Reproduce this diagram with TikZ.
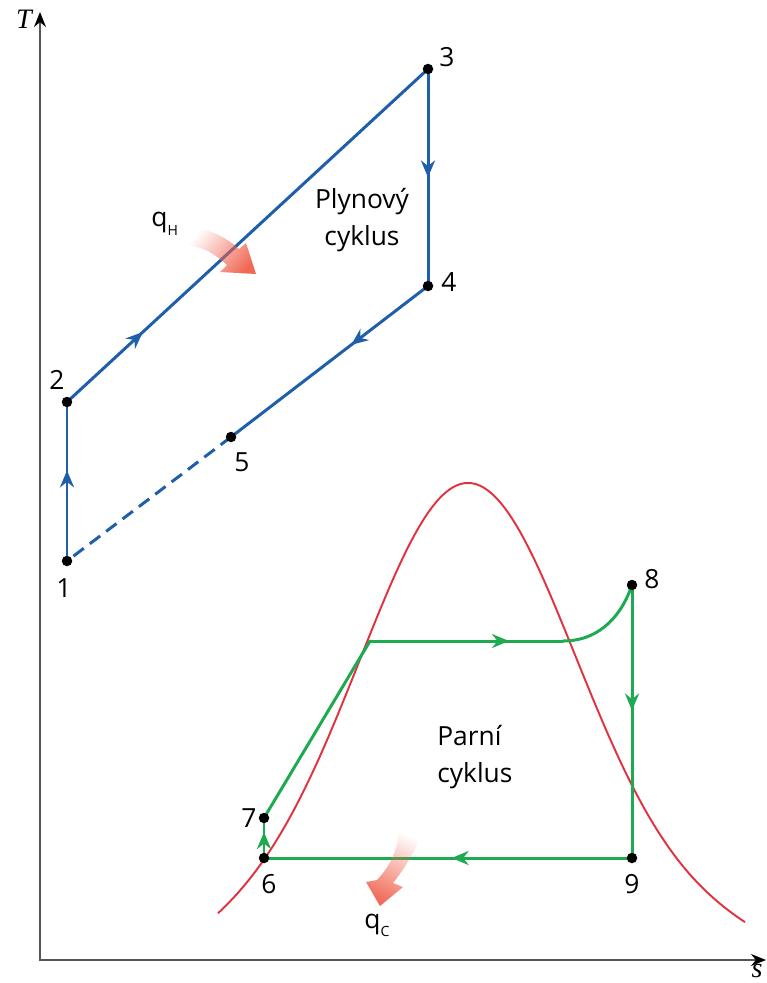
\documentclass[tikz,border=0pt]{standalone}
\usepackage{fontspec}
\setmainfont{Open Sans}
\newfontfamily\axisfont{Liberation Serif}
\usetikzlibrary{arrows.meta, decorations.markings, fadings}
\definecolor{cycblue}{HTML}{1F5FAA}
\definecolor{cycgreen}{HTML}{1DAA50}
\definecolor{domered}{HTML}{E2313F}
\definecolor{heatred}{HTML}{F0604C}
\definecolor{axisgray}{HTML}{555555}
\tikzfading[name=heatfade, left color=transparent!100, right color=transparent!5]
\newcommand{\lblsize}{\fontsize{15}{21}\selectfont}

\begin{document}
\begin{tikzpicture}[x=0.2mm, y=-0.2mm,
  >={Stealth[length=3.4mm, width=2.8mm]},
  midarrow/.style={postaction={decorate, decoration={markings,
      mark=at position #1 with {\arrow{>}}}}},
  gascycle/.style={cycblue, line width=1.7pt, line cap=round},
  steamcycle/.style={cycgreen, line width=1.7pt, line cap=round, line join=round},
  ptlabel/.style={font=\lblsize, text=black, inner sep=0pt},
  heatarrow/.style={heatred, path fading=heatfade},
]
\useasboundingbox (0,0) rectangle (766,983);

% Axes
\coordinate (O) at (40,960);
\coordinate (Ttop) at (40,12);
\coordinate (Send) at (766,960);
\draw[axisgray, line width=1pt,
  {Stealth[length=3mm, width=2.4mm, black]}-{Stealth[length=3mm, width=2.4mm, black]}]
  (Ttop) -- (O) -- (Send);
\node[font=\fontsize{16}{18}\selectfont\axisfont\itshape] (Tlab) at (24,19) {T};
\node[font=\fontsize{16}{18}\selectfont\axisfont\itshape] (slab) at (757,971) {s};

% ========================================
% Gas cycle
% ========================================
\coordinate (p1) at (67,561);
\coordinate (p2) at (67,402);
\coordinate (p3) at (428,69);
\coordinate (p4) at (428,286);
\coordinate (p5) at (231,437);

\draw[gascycle, midarrow=0.57] (p1) -- (p2);
\draw[gascycle, midarrow=0.21] (p2) -- (p3);
\draw[gascycle, midarrow=0.5] (p3) -- (p4);
\draw[gascycle, midarrow=0.39] (p4) -- (p5);
\draw[gascycle, line cap=butt, dash pattern=on 2.6mm off 1.5mm] (p5) -- (p1);

\foreach \p in {p1,p2,p3,p4,p5}
  \fill (\p) circle[radius=1.05mm];

\node[ptlabel] (l1) at (64,588) {1};
\node[ptlabel] (l2) at (57,380) {2};
\node[ptlabel] (l3) at (447,57) {3};
\node[ptlabel] (l4) at (449,282) {4};
\node[ptlabel] (l5) at (242,462) {5};

\node[ptlabel, align=center] (gastext) at (362,220) {Plynový\\cyklus};

% heat in
\fill[heatarrow, fading angle=-30]
  (188,227) .. controls (208,228) and (226,237) .. (239,249)
  -- (246,243) -- (256,274) -- (220,272) -- (227,265)
  .. controls (216,255) and (204,247) .. (190,246) -- cycle;
\node[ptlabel, anchor=base west] (qh) at (151,227)
  {q\raisebox{-5pt}{\fontsize{8}{9}\selectfont H}};

% ========================================
% Steam cycle
% ========================================
% saturation dome
\draw[domered, line width=1.1pt]
  plot[domain=218:468, samples=70]
    (\x, {483+400*(1-exp(-0.5*((\x-468)/104)^2))+8.4*((\x-468)/100)^2})
  -- plot[domain=468:745, samples=70]
    (\x, {483+400*(1-exp(-0.5*((\x-468)/104)^2))+6.6*((\x-468)/100)^2});

\coordinate (p6) at (264,858);
\coordinate (p7) at (264,818);
\coordinate (p8) at (632,585);
\coordinate (p9) at (632,858);
\coordinate (satl) at (370,641);
\coordinate (satv) at (563,641);

\draw[steamcycle, midarrow=0.65] (p6) -- (p7);
\draw[steamcycle] (p7) -- (satl);
\draw[steamcycle, midarrow=0.72] (satl) -- (satv);
\draw[steamcycle] (satv) .. controls (602,641) and (623,612) .. (p8);
\draw[steamcycle, midarrow=0.46] (p8) -- (p9);
\draw[steamcycle, midarrow=0.49] (p9) -- (p6);

\foreach \p in {p6,p7,p8,p9}
  \fill (\p) circle[radius=1.05mm];

\node[ptlabel] (l6) at (269,884) {6};
\node[ptlabel] (l7) at (249,818) {7};
\node[ptlabel] (l8) at (652,579) {8};
\node[ptlabel] (l9) at (632,884) {9};

\node[ptlabel, align=left, anchor=west] (steamtext) at (437,757) {Parní\\cyklus};

% heat out
\fill[heatarrow, fading angle=-110]
  (399,830) .. controls (398,850) and (390,866) .. (377,880)
  -- (366,882) -- (380,906) -- (403,887) -- (393,883)
  .. controls (405,868) and (415,851) .. (421,836) -- cycle;
\node[ptlabel, anchor=base west] (qc) at (364,928)
  {q\raisebox{-5pt}{\fontsize{8}{9}\selectfont C}};

\end{tikzpicture}
\end{document}
